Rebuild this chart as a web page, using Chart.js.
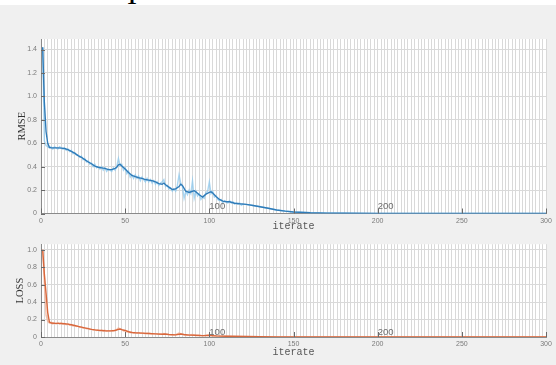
<!DOCTYPE html>
<html>
<head>
<meta charset="utf-8">
<script src="https://cdn.jsdelivr.net/npm/chart.js@4/dist/chart.umd.min.js"></script>
<style>
  html, body { margin: 0; padding: 0; background: #f0f0f0; }
  #page { position: relative; width: 556px; height: 365px; overflow: hidden; background: #f0f0f0; }
  #band { position: absolute; left: 0; top: 0; width: 556px; height: 5px; background: #fff; overflow: hidden; }
  #band span { position: absolute; left: 127px; top: -21px; font: 30px/30px "Liberation Serif", serif; color: #000; }
  #rmseCanvas { position: absolute; left: 0; top: 0; }
  #lossCanvas { position: absolute; left: 0; top: 236px; }
</style>
</head>
<body>
<div id="page">
  <div id="band"><span>I</span></div>
  <canvas id="rmseCanvas" width="556" height="236"></canvas>
  <canvas id="lossCanvas" width="556" height="129"></canvas>
</div>
<script>
// ---- training curves ----
// smoothed RMSE (iteration, value)
const rmseSmoothIter = [1,2,3,4,5,6,8,10,12,14,16,18,20,22,24,26,28,30,32,34,36,38,40,42,44,45,46,47,48,50,52,54,56,58,60,62,64,66,68,70,72,73,74,76,78,80,82,83,84,86,88,90,91,92,94,96,98,100,101,102,104,106,108,110,112,115,118,122,126,130,135,140,145,150,160,170,180,200,250,300];
const rmseSmooth = [1.42,0.95,0.70,0.60,0.565,0.56,0.56,0.56,0.558,0.555,0.545,0.53,0.515,0.495,0.48,0.46,0.44,0.425,0.405,0.395,0.39,0.385,0.375,0.375,0.385,0.395,0.415,0.42,0.405,0.38,0.35,0.325,0.315,0.305,0.30,0.29,0.285,0.28,0.27,0.255,0.25,0.26,0.245,0.225,0.205,0.21,0.23,0.25,0.24,0.19,0.18,0.19,0.195,0.185,0.16,0.14,0.165,0.18,0.185,0.175,0.145,0.12,0.105,0.10,0.10,0.088,0.083,0.078,0.068,0.058,0.045,0.03,0.02,0.013,0.006,0.003,0.002,0.001,0.0005,0.0003];

// raw RMSE, one value per iteration 1..120, then a sparse tail
const rmseRaw = [
  1.42,0.62,0.58,0.57,0.56,0.57,0.55,0.57,0.56,0.55,
  0.57,0.56,0.55,0.56,0.54,0.55,0.53,0.54,0.51,0.52,
  0.50,0.50,0.48,0.49,0.46,0.47,0.44,0.45,0.42,0.43,
  0.40,0.42,0.39,0.40,0.38,0.40,0.37,0.39,0.36,0.38,
  0.37,0.36,0.39,0.37,0.40,0.47,0.41,0.42,0.37,0.39,
  0.34,0.36,0.31,0.33,0.30,0.33,0.30,0.32,0.28,0.31,
  0.29,0.27,0.30,0.27,0.29,0.26,0.28,0.25,0.27,0.24,
  0.26,0.27,0.29,0.23,0.24,0.21,0.22,0.19,0.21,0.19,
  0.24,0.33,0.26,0.23,0.13,0.19,0.16,0.20,0.17,0.28,
  0.13,0.19,0.15,0.17,0.12,0.14,0.13,0.18,0.19,0.27,
  0.17,0.19,0.14,0.15,0.12,0.11,0.12,0.09,0.11,0.10,
  0.09,0.11,0.09,0.10,0.08,0.09,0.08,0.09,0.07,0.08
];
const rmseRawTailIter = [125,130,135,140,150,160,200,300];
const rmseRawTail = [0.07,0.06,0.045,0.03,0.013,0.006,0.001,0.0003];

// smoothed LOSS (iteration, value)
const lossSmoothIter = [1,2,3,4,5,6,8,10,12,14,16,18,20,22,24,26,28,30,32,34,36,38,40,42,44,46,47,48,50,52,54,56,60,64,68,72,74,76,80,83,85,88,92,96,100,104,110,120,130,140,150,200,300];
const lossSmooth = [1.0,0.72,0.50,0.28,0.17,0.16,0.157,0.156,0.155,0.152,0.148,0.14,0.132,0.122,0.113,0.104,0.096,0.088,0.082,0.078,0.075,0.072,0.07,0.071,0.075,0.088,0.092,0.085,0.075,0.06,0.052,0.048,0.044,0.04,0.036,0.032,0.034,0.028,0.024,0.035,0.028,0.022,0.02,0.016,0.018,0.013,0.009,0.006,0.004,0.002,0.0015,0.0005,0.0002];

// raw LOSS (iteration, value)
const lossRawIter = [1,2,3,4,5,6,7,8,9,10,11,12,13,14,15,16,17,18,19,20,21,22,23,24,25,26,27,28,29,30,31,32,33,34,35,36,37,38,39,40,41,42,43,44,45,46,47,48,49,50,51,52,53,54,55,56,57,58,59,60,62,64,66,68,70,72,73,74,76,78,80,82,84,86,88,90,92,94,96,98,100,102,104,106,110,120,130,140,150,200,300];
const lossRaw = [1.0,0.62,0.25,0.18,0.16,0.17,0.15,0.16,0.15,0.165,0.15,0.16,0.15,0.155,0.14,0.15,0.135,0.14,0.125,0.13,0.12,0.125,0.11,0.115,0.10,0.105,0.095,0.10,0.085,0.09,0.08,0.085,0.075,0.08,0.072,0.078,0.07,0.076,0.066,0.072,0.068,0.074,0.07,0.08,0.085,0.105,0.09,0.088,0.07,0.075,0.058,0.062,0.05,0.055,0.046,0.052,0.044,0.05,0.042,0.046,0.038,0.043,0.035,0.039,0.031,0.036,0.04,0.03,0.027,0.022,0.026,0.045,0.03,0.018,0.025,0.03,0.015,0.02,0.013,0.02,0.028,0.015,0.012,0.01,0.008,0.006,0.004,0.002,0.0015,0.0005,0.0002];

// x tick labels and the marked iterations
const xTickLabels = [0,50,100,150,200,250,300];
const markedIters = [100,200];

const pairs = (xs, ys) => ys.map((v, i) => ({x: xs[i], y: v}));
const rawIterRange = rmseRaw.map((_, i) => i + 1);

// white plotting area behind the grid
const plotBg = {
  id: 'plotBg',
  beforeDraw(chart) {
    const {ctx, chartArea: a} = chart;
    ctx.save();
    ctx.fillStyle = '#ffffff';
    ctx.fillRect(a.left, a.top, a.right - a.left, a.bottom - a.top);
    ctx.restore();
  }
};

// short tick marks pointing into the plot, plus the iteration marks
const axesDecor = {
  id: 'axesDecor',
  afterDatasetsDraw(chart, args, opts) {
    const {ctx, chartArea: a, scales: {x, y}} = chart;
    ctx.save();
    ctx.strokeStyle = '#6a6a6a';
    ctx.lineWidth = 1;
    ctx.beginPath();
    xTickLabels.forEach(v => {
      const px = Math.round(x.getPixelForValue(v)) + 0.5;
      ctx.moveTo(px, a.bottom);
      ctx.lineTo(px, a.bottom - 5);
    });
    y.ticks.forEach(t => {
      const py = Math.round(y.getPixelForValue(t.value)) + 0.5;
      ctx.moveTo(a.left, py);
      ctx.lineTo(a.left + 4, py);
    });
    ctx.stroke();
    ctx.font = '9.5px "Liberation Sans", Arial, sans-serif';
    ctx.fillStyle = '#6e6e6e';
    ctx.textAlign = 'left';
    ctx.textBaseline = 'alphabetic';
    markedIters.forEach(n => {
      ctx.fillText(String(n), x.getPixelForValue(n), y.getPixelForValue(opts.labelY));
    });
    ctx.restore();
  }
};

function makeChart(canvasId, cfg) {
  return new Chart(document.getElementById(canvasId), {
    type: 'line',
    data: {
      datasets: [
        {
          data: cfg.smooth,
          borderColor: cfg.main,
          borderWidth: 1.4,
          pointRadius: 0,
          tension: 0,
          order: 0
        },
        {
          data: cfg.raw,
          borderColor: cfg.light,
          borderWidth: 1.4,
          pointRadius: 0,
          tension: 0,
          order: 1
        }
      ]
    },
    options: {
      responsive: false,
      animation: false,
      events: [],
      layout: {padding: {top: cfg.padTop, right: 10, left: 0, bottom: 0}},
      plugins: {
        legend: {display: false},
        tooltip: {enabled: false},
        axesDecor: {labelY: cfg.markY}
      },
      scales: {
        x: {
          type: 'linear',
          min: 0,
          max: 300,
          afterFit(s) { s.height = cfg.xAxisH; },
          grid: {color: '#d9d9d9', lineWidth: 1, drawTicks: false},
          border: {display: true, color: '#8a8a8a'},
          ticks: {
            stepSize: 2,
            autoSkip: false,
            maxRotation: 0,
            includeBounds: false,
            padding: cfg.xTickPad,
            color: '#7a7a7a',
            font: {family: '"Liberation Sans", Arial, sans-serif', size: 7},
            callback: v => (xTickLabels.includes(v) ? String(v) : '')
          },
          title: {
            display: true,
            text: 'iterate',
            color: '#555555',
            font: {family: '"Liberation Mono", monospace', size: 10},
            padding: {top: 0, bottom: cfg.xTitlePad}
          }
        },
        y: {
          min: 0,
          max: cfg.yMax,
          afterFit(s) { s.width = 41; },
          grid: {color: '#d9d9d9', lineWidth: 1, drawTicks: false},
          border: {display: true, color: '#8a8a8a'},
          ticks: {
            stepSize: 0.2,
            includeBounds: false,
            padding: 4,
            color: '#7a7a7a',
            font: {family: '"Liberation Sans", Arial, sans-serif', size: 7}
          },
          title: {
            display: true,
            text: cfg.yTitle,
            color: '#333333',
            font: {family: '"Liberation Serif", "Times New Roman", serif', size: 10.5},
            padding: {top: cfg.yTitlePad, bottom: 0}
          }
        }
      }
    },
    plugins: [plotBg, axesDecor]
  });
}

makeChart('rmseCanvas', {
  padTop: 39,
  xAxisH: 22.5,
  xTickPad: 3,
  xTitlePad: 4,
  yMax: 1.49,
  yTitle: 'RMSE',
  yTitlePad: 16,
  markY: 0.037,
  main: '#2f7bb8',
  light: 'rgba(140,200,238,0.75)',
  smooth: pairs(rmseSmoothIter, rmseSmooth),
  raw: pairs(rawIterRange, rmseRaw).concat(pairs(rmseRawTailIter, rmseRawTail))
});

makeChart('lossCanvas', {
  padTop: 5,
  xAxisH: 28,
  xTickPad: 3,
  xTitlePad: 7,
  yMax: 1.063,
  yTitle: 'LOSS',
  yTitlePad: 14,
  markY: 0.028,
  main: '#d8673c',
  light: 'rgba(242,178,150,0.8)',
  smooth: pairs(lossSmoothIter, lossSmooth),
  raw: pairs(lossRawIter, lossRaw)
});
</script>
</body>
</html>
